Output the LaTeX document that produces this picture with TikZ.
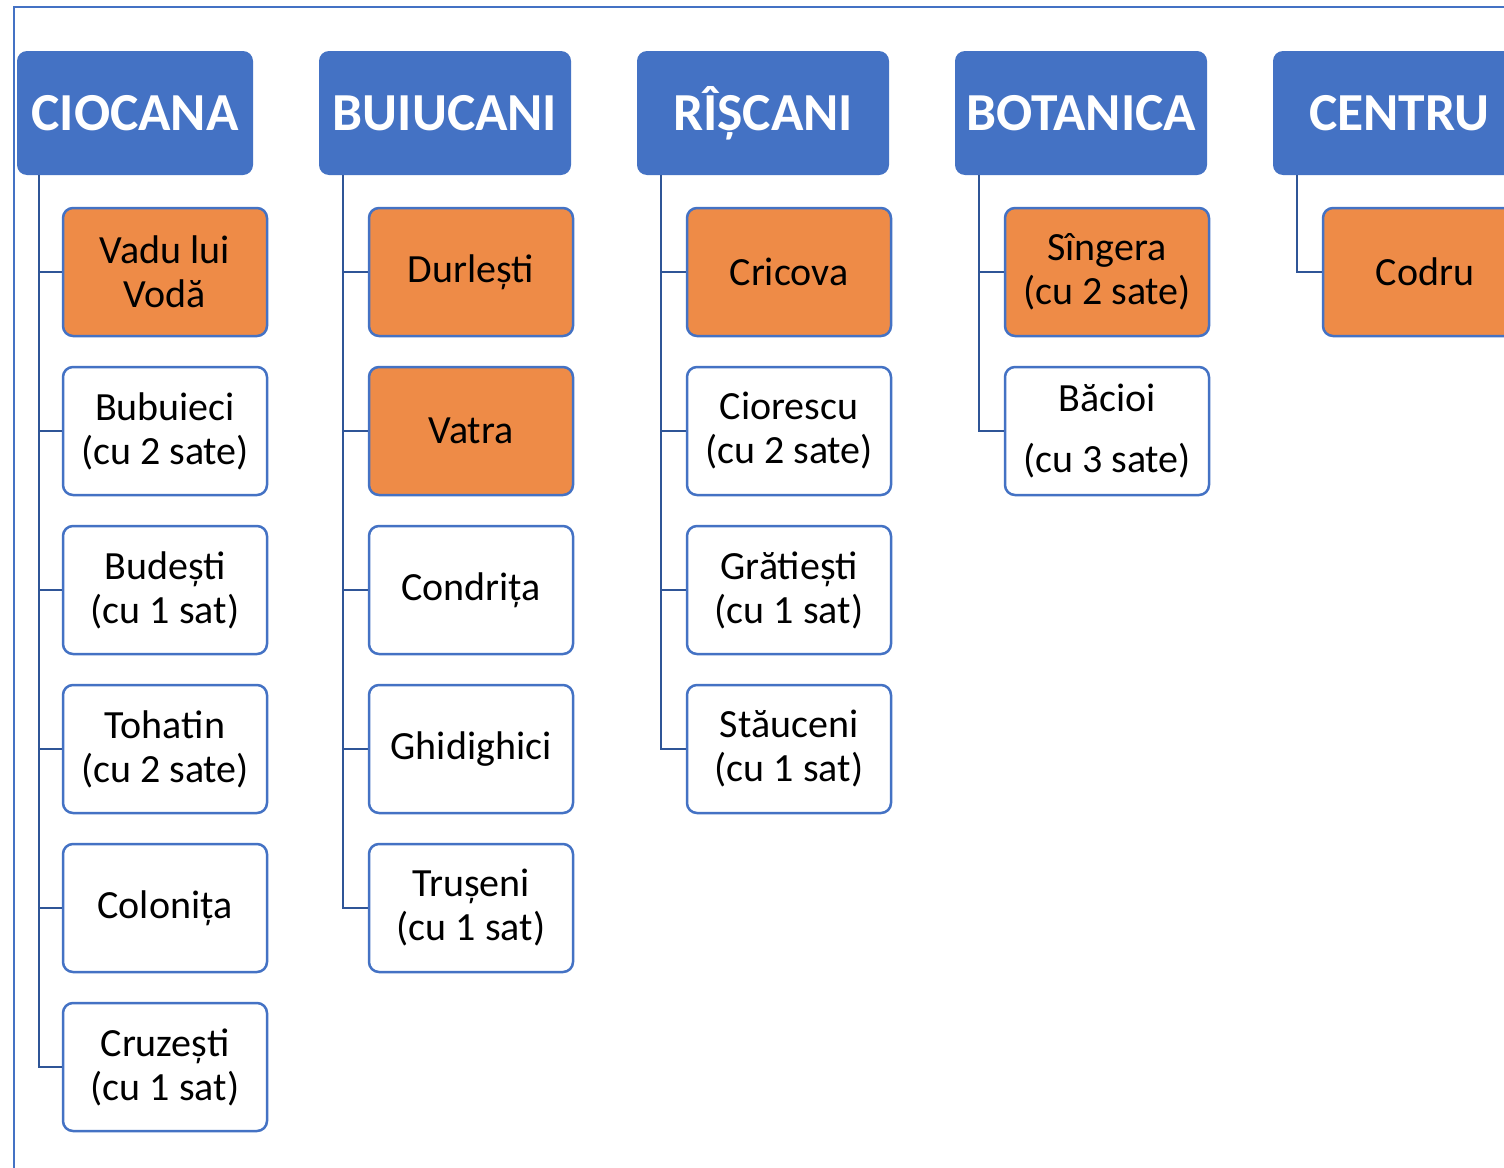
\documentclass[tikz,border=0pt]{standalone}
\usepackage{fontspec}
\setmainfont{Carlito}
\definecolor{hdr}{HTML}{4472C4}
\definecolor{org}{HTML}{EE8B47}
\definecolor{connc}{HTML}{2F5597}
\tikzset{
  hdrbox/.style={fill=hdr, rounded corners=10pt, minimum width=252pt, minimum height=124pt,
    text=white, font=\fontsize{53.5}{60}\selectfont\bfseries, inner sep=0pt},
  childbox/.style={draw=hdr, line width=2.5pt, fill=white, rounded corners=10pt,
    minimum width=204pt, minimum height=128pt, align=center,
    font=\fontsize{40}{44}\selectfont, inner sep=0pt},
  orgbox/.style={childbox, fill=org},
  connline/.style={draw=connc, line width=2.5pt},
  framel/.style={draw=hdr, line width=2pt}
}
\begin{document}
\begin{tikzpicture}[x=1pt,y=-1pt]
\useasboundingbox (0,0) rectangle (1504,1167);
\clip (0,0) rectangle (1504,1167);
\fill[white] (0,0) rectangle (1504,1167);
\draw[framel] (14,1168) -- (14,7) -- (1505,7);

% headers
\node[hdrbox, minimum width=236pt] (h1) at (135,113) {CIOCANA};
\node[hdrbox] (h2) at (445,113) {BUIUCANI};
\node[hdrbox] (h3) at (763,113) {RÎȘCANI};
\node[hdrbox] (h4) at (1081,113) {BOTANICA};
\node[hdrbox] (h5) at (1399,113) {CENTRU};

% CIOCANA
\node[orgbox] (c1) at (165,272) {Vadu lui\\Vodă};
\node[childbox] (c2) at (165,431) {Bubuieci\\(cu 2 sate)};
\node[childbox] (c3) at (165,590) {Budești\\(cu 1 sat)};
\node[childbox] (c4) at (165,749) {Tohatin\\(cu 2 sate)};
\node[childbox] (c5) at (165,908) {Colonița};
\node[childbox] (c6) at (165,1067) {Cruzești\\(cu 1 sat)};

% BUIUCANI
\node[orgbox] (b1) at (471,272) {Durlești};
\node[orgbox] (b2) at (471,431) {Vatra};
\node[childbox] (b3) at (471,590) {Condrița};
\node[childbox] (b4) at (471,749) {Ghidighici};
\node[childbox] (b5) at (471,908) {Trușeni\\(cu 1 sat)};

% RISCANI
\node[orgbox] (r1) at (789,272) {Cricova};
\node[childbox] (r2) at (789,431) {Ciorescu\\(cu 2 sate)};
\node[childbox] (r3) at (789,590) {Grătiești\\(cu 1 sat)};
\node[childbox] (r4) at (789,749) {Stăuceni\\(cu 1 sat)};

% BOTANICA
\node[orgbox] (t1) at (1107,272) {Sîngera\\(cu 2 sate)};
\node[childbox, font=\fontsize{40}{61}\selectfont] (t2) at (1107,431) {Băcioi\\(cu 3 sate)};

% CENTRU
\node[orgbox] (e1) at (1425,272) {Codru};

% connectors
\coordinate (v1) at ([xshift=22pt]h1.south west);
\coordinate (v2) at ([xshift=24pt]h2.south west);
\coordinate (v3) at ([xshift=24pt]h3.south west);
\coordinate (v4) at ([xshift=24pt]h4.south west);
\coordinate (v5) at ([xshift=24pt]h5.south west);
\foreach \c in {c1,c2,c3,c4,c5,c6} \draw[connline] (v1) |- (\c.west);
\foreach \c in {b1,b2,b3,b4,b5} \draw[connline] (v2) |- (\c.west);
\foreach \c in {r1,r2,r3,r4} \draw[connline] (v3) |- (\c.west);
\foreach \c in {t1,t2} \draw[connline] (v4) |- (\c.west);
\draw[connline] (v5) |- (e1.west);
\end{tikzpicture}
\end{document}
